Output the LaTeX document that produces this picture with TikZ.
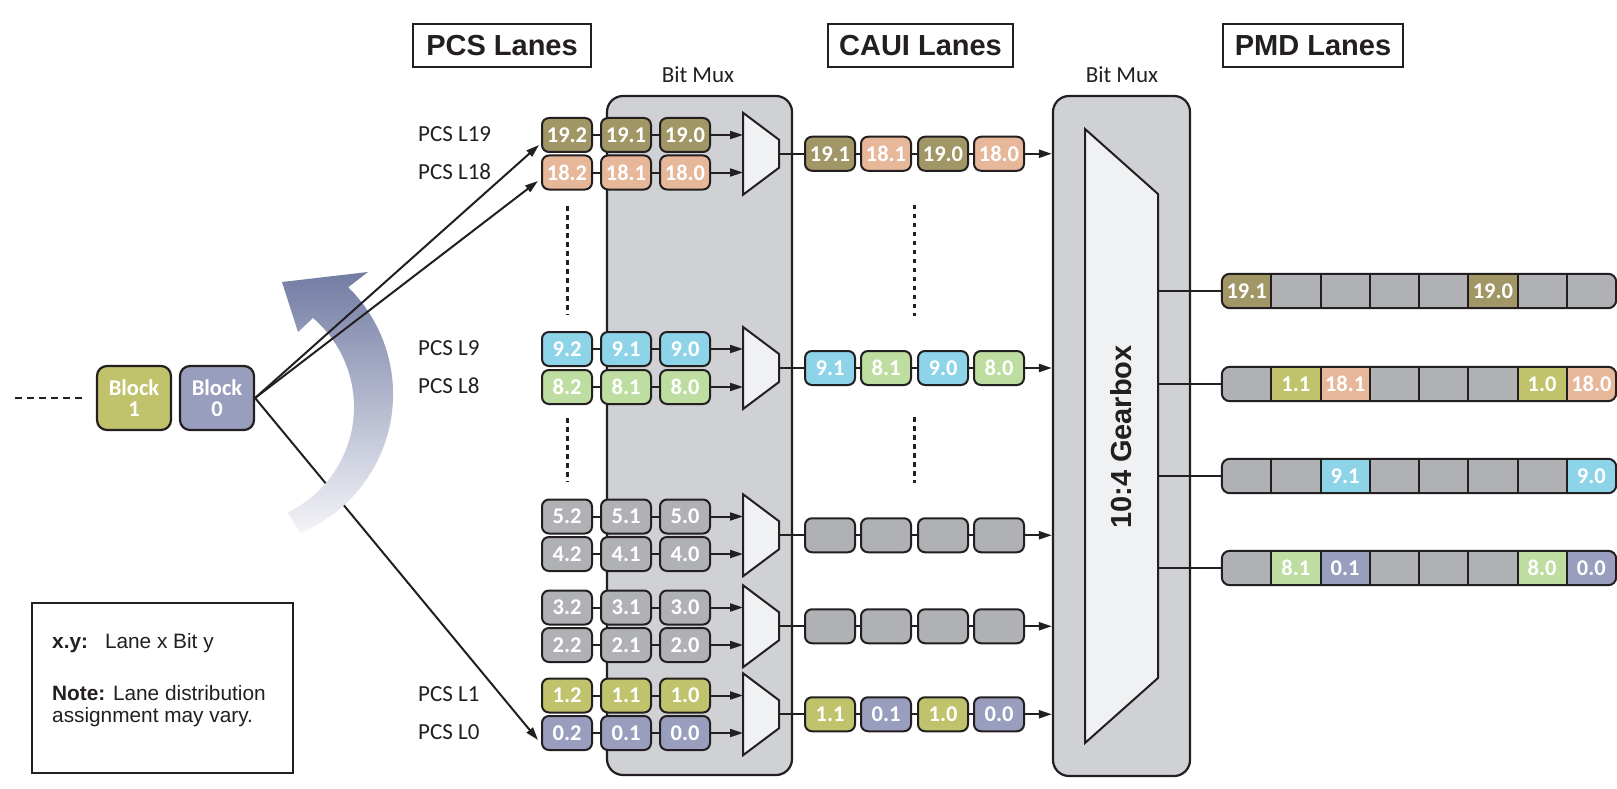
\documentclass[tikz,border=0pt]{standalone}
\usepackage{fontspec}
\setmainfont{Carlito}
\newfontfamily\arialf{Liberation Sans}
\usetikzlibrary{arrows.meta,calc}
\definecolor{lc}{RGB}{35,31,32}
\definecolor{c19}{RGB}{160,150,102}
\definecolor{c18}{RGB}{231,183,153}
\definecolor{c9}{RGB}{142,212,233}
\definecolor{c8}{RGB}{190,221,160}
\definecolor{cg}{RGB}{176,177,181}
\definecolor{c1}{RGB}{192,195,108}
\definecolor{c0}{RGB}{154,158,190}
\definecolor{muxbg}{RGB}{208,209,212}
\definecolor{muxfill}{RGB}{240,241,243}
\definecolor{arrdark}{RGB}{115,125,164}
\definecolor{arrmid}{RGB}{152,158,192}
\definecolor{arrlight}{RGB}{244,244,248}

\newcommand\pmdlane[3]{%
  \begin{scope}
    \clip[rounded corners=8pt] (1222,#2-17) rectangle (1616,#2+17);
    \foreach \cf/\ct [count=\cj] in {#3} {
      \node[cell, fill=\cf] (m#1-\cj) at ({1222+49.25*(\cj-0.5)},#2) {\ct};
    }
  \end{scope}
  \foreach \cj in {1,...,7} {\draw[conn] (m#1-\cj.north east) -- (m#1-\cj.south east);}
  \draw[conn, rounded corners=8pt] (m#1-1.north west) rectangle (m#1-8.south east);
  \coordinate (gbo#1) at (1158,#2);
  \draw[conn] (gbo#1) -- (m#1-1.west);
}

\begin{document}
\begin{tikzpicture}[x=1pt,y=-1pt,
  lbl/.style={font=\fontsize{23}{24}\selectfont, text=lc, inner sep=0pt},
  bitbox/.style={draw=lc, line width=2pt, rounded corners=7pt, minimum width=50pt, minimum height=34pt, inner sep=0pt, text=white, font=\fontsize{22.5}{23}\selectfont\bfseries},
  cell/.style={minimum width=49.25pt, minimum height=34pt, inner sep=0pt, text=white, font=\fontsize{22.5}{23}\selectfont\bfseries},
  conn/.style={draw=lc, line width=2pt},
  arr/.style={conn, -{Triangle[length=13pt,width=8pt]}},
  hdr/.style={draw=lc, line width=2.5pt, minimum height=43pt, inner sep=0pt, font=\arialf\bfseries\fontsize{29}{30}\selectfont, text=lc},
  panel/.style={draw=lc, line width=2.2pt, fill=muxbg, rounded corners=16pt, inner sep=0pt},
  muxshape/.style={draw=lc, line width=2pt, fill=muxfill, line join=miter},
  dots/.style={draw=lc, line width=3pt, dash pattern=on 4.5pt off 4.5pt},
  blockbox/.style={draw=lc, line width=2.2pt, rounded corners=10pt, minimum width=74pt, minimum height=64pt, inner sep=0pt, text=white, align=center, font=\fontsize{22.5}{21}\selectfont\bfseries},
  legtext/.style={font=\arialf\fontsize{20.8}{22.5}\selectfont, text=lc, inner sep=0pt, align=left}
]
\fill[white] (0,0) rectangle (1617,789);
\useasboundingbox (0,0) rectangle (1617,789);

% headers
\node[hdr, minimum width=178pt] (hpcs) at (502,45.5) {PCS Lanes};
\node[hdr, minimum width=185pt] (hcaui) at (920.5,45.5) {CAUI Lanes};
\node[hdr, minimum width=180pt] (hpmd) at (1313,45.5) {PMD Lanes};

% panels
\node[lbl] (bml1) at (698,75) {Bit Mux};
\node[lbl] (bml2) at (1122,75) {Bit Mux};
\node[panel, minimum width=185pt, minimum height=679pt] (bm1) at (699.5,435.5) {};
\node[panel, minimum width=137pt, minimum height=680pt] (gbp) at (1121.5,436) {};

% PCS lanes
\foreach \r/\c/\y in {19/c19/135,18/c18/172.5,9/c9/349,8/c8/387,5/cg/516.5,4/cg/554,3/cg/607.5,2/cg/645,1/c1/695.5,0/c0/733} {
  \node[bitbox, fill=\c] (p\r-2) at (567,\y) {\r.2};
  \node[bitbox, fill=\c] (p\r-1) at (626,\y) {\r.1};
  \node[bitbox, fill=\c] (p\r-0) at (685,\y) {\r.0};
  \draw[conn] (p\r-2) -- (p\r-1);
  \draw[conn] (p\r-1) -- (p\r-0);
}

% lane labels
\node[lbl, anchor=west] (l19) at (418,134) {PCS L19};
\node[lbl, anchor=west] (l18) at (418,172) {PCS L18};
\node[lbl, anchor=west] (l9) at (418,348) {PCS L9};
\node[lbl, anchor=west] (l8) at (418,386) {PCS L8};
\node[lbl, anchor=west] (l1) at (418,694) {PCS L1};
\node[lbl, anchor=west] (l0) at (418,732) {PCS L0};

% muxes
\foreach \i/\ra/\rb/\y in {A/19/18/153.75, B/9/8/368, C/5/4/535.25, D/3/2/626.25, E/1/0/714.25} {
  \draw[muxshape] (743,\y-41) -- (779,\y-14) -- (779,\y+14) -- (743,\y+41) -- cycle;
  \coordinate (mx\i-in) at (743,\y);
  \coordinate (mx\i-out) at (779,\y);
  \draw[arr] (p\ra-0) -- (p\ra-0 -| mx\i-in);
  \draw[arr] (p\rb-0) -- (p\rb-0 -| mx\i-in);
}

% CAUI lanes
\foreach \i/\y/\ta/\fa/\tb/\fb/\tc/\fc/\td/\fd in {A/153.75/19.1/c19/18.1/c18/19.0/c19/18.0/c18, B/368/9.1/c9/8.1/c8/9.0/c9/8.0/c8, C/535.25/\relax/cg/\relax/cg/\relax/cg/\relax/cg, D/626.25/\relax/cg/\relax/cg/\relax/cg/\relax/cg, E/714.25/1.1/c1/0.1/c0/1.0/c1/0.0/c0} {
  \node[bitbox, fill=\fa] (c\i-1) at (830,\y) {\ta};
  \node[bitbox, fill=\fb] (c\i-2) at (886,\y) {\tb};
  \node[bitbox, fill=\fc] (c\i-3) at (943,\y) {\tc};
  \node[bitbox, fill=\fd] (c\i-4) at (999,\y) {\td};
  \draw[conn] (mx\i-out) -- (c\i-1);
  \draw[conn] (c\i-1) -- (c\i-2);
  \draw[conn] (c\i-2) -- (c\i-3);
  \draw[conn] (c\i-3) -- (c\i-4);
  \draw[arr] (c\i-4) -- (c\i-4 -| gbp.west);
}

% dotted continuation marks
\draw[dots, shorten <=15.5pt, shorten >=16pt] (p18-2.south) -- (p9-2.north);
\draw[dots, shorten <=13pt, shorten >=16.5pt] (p8-2.south) -- (p5-2.north);
\draw[dots, shorten <=51pt, shorten >=52pt] ($(cA-2.east)!0.5!(cA-3.west)$) -- ($(cB-2.east)!0.5!(cB-3.west)$);
\draw[dots, shorten <=49pt, shorten >=52pt] ($(cB-2.east)!0.5!(cB-3.west)$) -- ($(cC-2.east)!0.5!(cC-3.west)$);

% gearbox
\draw[muxshape] (1085,129) -- (1158,194) -- (1158,678) -- (1085,743) -- cycle;
\node[rotate=90, font=\arialf\bfseries\fontsize{29}{30}\selectfont, text=lc, inner sep=0pt] (gbt) at (1121,437) {10:4 Gearbox};

% PMD lanes
\pmdlane{1}{291}{c19/19.1,cg/\relax,cg/\relax,cg/\relax,cg/\relax,c19/19.0,cg/\relax,cg/\relax}
\pmdlane{2}{384}{cg/\relax,c1/1.1,c18/18.1,cg/\relax,cg/\relax,cg/\relax,c1/1.0,c18/18.0}
\pmdlane{3}{476}{cg/\relax,cg/\relax,c9/9.1,cg/\relax,cg/\relax,cg/\relax,cg/\relax,c9/9.0}
\pmdlane{4}{568}{cg/\relax,c8/8.1,c0/0.1,cg/\relax,cg/\relax,cg/\relax,c8/8.0,c0/0.0}

% blocks
\node[blockbox, fill=c1] (b1) at (134,398) {Block\\1};
\node[blockbox, fill=c0] (b0) at (217,398) {Block\\0};
\coordinate (dstart) at (15,398);
\draw[draw=lc, line width=2pt, dash pattern=on 7pt off 5pt, shorten >=12pt] (dstart) -- (b1.west);

% lower distribution line (under the curved arrow)
\draw[arr] (b0.east) -- ($(p0-2.west)+(-3,7)$);

% curved arrow
\shade[top color=arrdark, middle color=arrmid, bottom color=arrlight]
  (300,533) arc[start angle=67.7, end angle=-45.5, radius=150]
  -- (368,272) -- (282,282) -- (298,332) -- (313,318)
  arc[start angle=-49.5, end angle=64.3, radius=117] -- cycle;

% upper distribution lines
\draw[arr] (b0.east) -- ($(p19-2.west)+(-2,10)$);
\draw[arr] (b0.east) -- ($(p18-2.west)+(-3,8.5)$);

% legend
\node[draw=lc, line width=2.2pt, minimum width=261pt, minimum height=170pt, inner sep=0pt] (leg) at (162.5,688) {};
\node[legtext, anchor=west] (legA) at (52,643) {\textbf{x.y:}\hspace{17pt}Lane x Bit y};
\node[legtext, anchor=west] (legB) at (52,706) {\textbf{Note:} Lane distribution\\assignment may vary.};
\end{tikzpicture}
\end{document}
